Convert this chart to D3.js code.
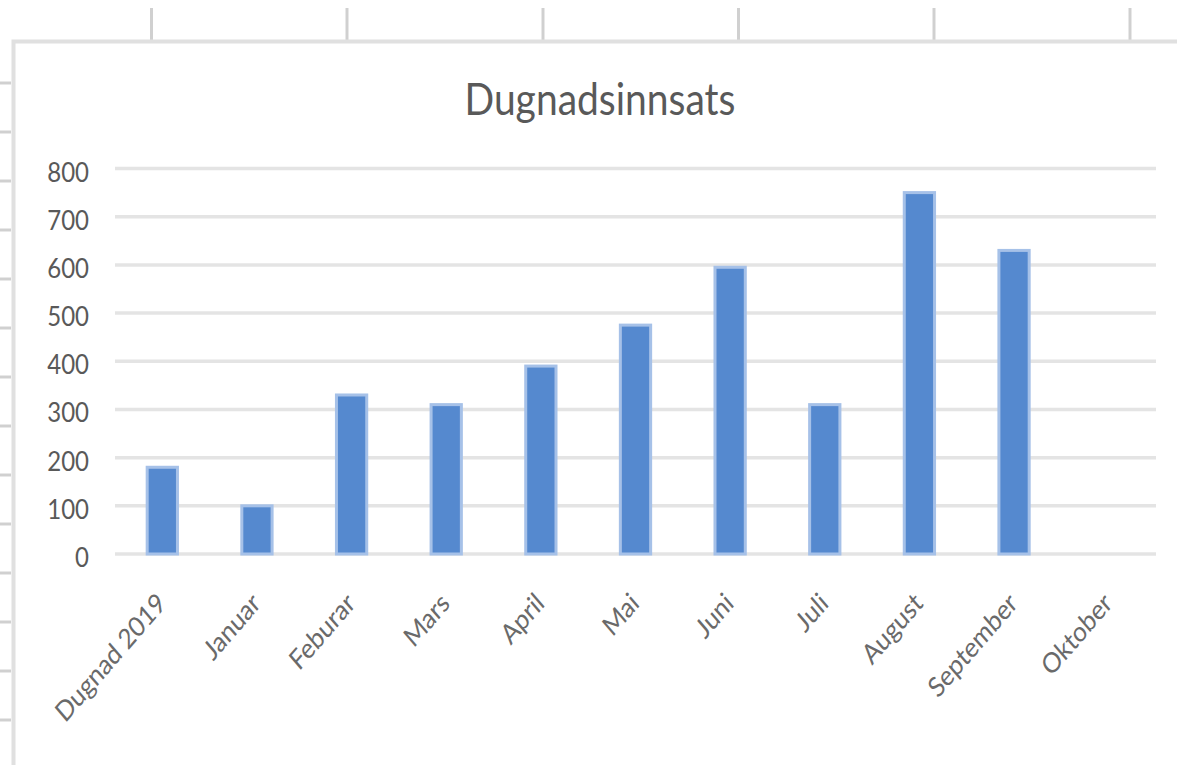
<!DOCTYPE html>
<html>
<head>
<meta charset="utf-8">
<script src="https://cdn.jsdelivr.net/npm/d3@7"></script>
<style>
  body { margin: 0; background: #fff; }
  svg { display: block; }
  text { font-family: Lato, "Open Sans", sans-serif; fill: #595959; }
</style>
</head>
<body>
<div id="chart"><svg></svg></div>
<script>
var width = 1177,
    height = 765;

// data
var categories = ["Dugnad 2019", "Januar", "Feburar", "Mars", "April", "Mai",
                  "Juni", "Juli", "August", "September", "Oktober"];
var values = [180, 100, 330, 310, 390, 475, 595, 310, 750, 630, 0];
var yTicks = [0, 100, 200, 300, 400, 500, 600, 700, 800];
var title = "Dugnadsinnsats";

// the screenshot is a bit stretched vertically
var stretch = 1.16;

var barColor = "#5589cf",
    barEdge = "#a6c1e8",
    gridColor = "#e4e4e4";

var svg = d3.select("#chart svg")
  .attr("width", width)
  .attr("height", height);

// spreadsheet cell lines behind the chart
var colLines = [151.5, 347, 543, 738.5, 934, 1130];
svg.append("g")
  .selectAll("line")
    .data(colLines)
  .enter().append("line")
    .attr("x1", function (d) { return d; })
    .attr("x2", function (d) { return d; })
    .attr("y1", 8)
    .attr("y2", 40)
    .attr("stroke", "#d0d0d0")
    .attr("stroke-width", 3);

svg.append("g")
  .selectAll("line")
    .data(d3.range(83, 730, 49))
  .enter().append("line")
    .attr("x1", 0)
    .attr("x2", 11)
    .attr("y1", function (d) { return d; })
    .attr("y2", function (d) { return d; })
    .attr("stroke", "#d0d0d0")
    .attr("stroke-width", 3);

// chart frame (top and left edges only are visible)
svg.append("path")
  .attr("d", "M13.5," + height + "V41.5H" + width)
  .attr("fill", "none")
  .attr("stroke", "#e0e0e0")
  .attr("stroke-width", 4);

// scales
var x = d3.scaleBand()
  .domain(categories)
  .range([115, 1156])
  .paddingInner(0.68)
  .paddingOuter(0.34);

var y = d3.scaleLinear()
  .domain([0, 800])
  .range([554, 168.5]);

// gridlines
svg.append("g")
    .attr("class", "grid")
  .selectAll("line")
    .data(yTicks)
  .enter().append("line")
    .attr("x1", 115)
    .attr("x2", 1156)
    .attr("y1", function (d) { return y(d); })
    .attr("y2", function (d) { return y(d); })
    .attr("stroke", gridColor)
    .attr("stroke-width", 3.5);

// y labels
svg.append("g")
  .selectAll("text")
    .data(yTicks)
  .enter().append("text")
    .attr("transform", function (d) {
      return "translate(89," + (y(d) + 13) + ") scale(1," + stretch + ")";
    })
    .attr("text-anchor", "end")
    .style("font-size", "24px")
    .text(function (d) { return d; });

// bars
svg.append("g")
    .attr("class", "bars")
  .selectAll("rect")
    .data(values)
  .enter().append("rect")
    .attr("x", function (d, i) { return x(categories[i]); })
    .attr("y", function (d) { return y(d); })
    .attr("width", x.bandwidth())
    .attr("height", function (d) { return y(0) - y(d); })
    .attr("fill", barColor)
    .attr("stroke", barEdge)
    .attr("stroke-width", function (d) { return d > 0 ? 3 : 0; });

// x labels, rotated
svg.append("g")
  .selectAll("text")
    .data(categories)
  .enter().append("text")
    .attr("transform", function (d) {
      var cx = x(d) + x.bandwidth() / 2 + 5;
      return "translate(" + cx + ",605) scale(1," + stretch + ") rotate(-45)";
    })
    .attr("text-anchor", "end")
    .style("font-size", "24px")
    .style("fill", "#6a6a6a")
    .text(function (d) { return d; });

// title
svg.append("text")
  .attr("transform", "translate(600,115) scale(1," + stretch + ")")
  .attr("text-anchor", "middle")
  .style("font-size", "39px")
  .text(title);
</script>
</body>
</html>
